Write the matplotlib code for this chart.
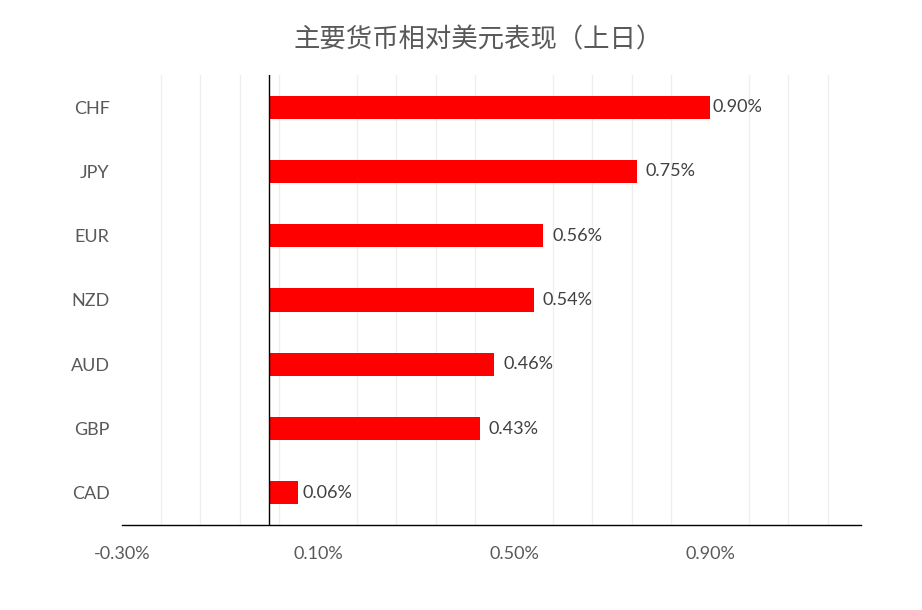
import numpy as np
import matplotlib
matplotlib.use("Agg")
import matplotlib.pyplot as plt
from matplotlib.ticker import FixedLocator, FuncFormatter

# data
currencies = ["CHF", "JPY", "EUR", "NZD", "AUD", "GBP", "CAD"]
changes = [0.90, 0.75, 0.56, 0.54, 0.46, 0.43, 0.06]
major_ticks = [-0.30, 0.10, 0.50, 0.90]
title = "主要货币相对美元表现（上日）"

plt.rcParams['font.family'] = ['Lato', 'Noto Sans CJK SC', 'DejaVu Sans']

fig = plt.figure(figsize=(9.22, 6.10), dpi=100)
ax = fig.add_axes([122/922, 1 - 525/610, (861 - 122)/922, (525 - 75)/610])

y = np.arange(len(currencies))[::-1]
bars = ax.barh(y, changes, height=0.36, color='#FF0000', zorder=3)

ax.set_xlim(-0.30, 1.208)
ax.set_ylim(-0.5, len(currencies) - 0.5)

# light vertical gridlines every 0.08
ax.xaxis.set_major_locator(FixedLocator(major_ticks))
ax.xaxis.set_minor_locator(FixedLocator(np.arange(-0.30, 1.21, 0.08)))
ax.grid(axis='x', which='minor', color='#EFEFEF', linewidth=0.9, zorder=0)
ax.xaxis.set_major_formatter(FuncFormatter(lambda v, p: f"{v:.2f}%"))
ax.axvline(0, color='black', linewidth=1.0, zorder=4)

ax.set_yticks(y)
ax.set_yticklabels(currencies)
ax.tick_params(axis='both', which='both', length=0, labelsize=13, labelcolor='#595959')
ax.tick_params(axis='x', pad=15)
ax.tick_params(axis='y', pad=9)

for s in ['top', 'right', 'left']:
    ax.spines[s].set_visible(False)
ax.spines['bottom'].set_color('black')
ax.spines['bottom'].set_linewidth(1.0)
ax.spines['bottom'].set_zorder(5)

for b, v in zip(bars, changes):
    if v == max(changes):
        pad = 1.5
    elif v == min(changes):
        pad = 3
    else:
        pad = 6.5
    ax.annotate(f"{v:.2f}%", (b.get_width(), b.get_y() + b.get_height()/2),
                xytext=(pad, 0), textcoords='offset points', va='center', ha='left',
                fontsize=13, color='#404040')

fig.text(478/922, 1 - 40/610, title, ha='center', va='center', fontsize=19,
         color='#595959', family=['Noto Sans CJK SC', 'DejaVu Sans'], fontweight='light')

fig.savefig("out.png", dpi=100, facecolor='white')
